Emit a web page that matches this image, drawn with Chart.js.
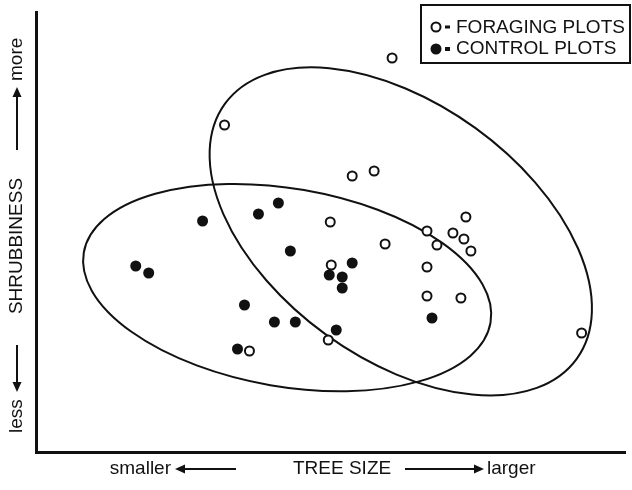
<!DOCTYPE html>
<html><head><meta charset="utf-8">
<script src="https://cdn.jsdelivr.net/npm/chart.js@4"></script>
<style>html,body{margin:0;padding:0;background:#fff}</style>
</head><body>
<canvas id="c" width="632" height="490"></canvas>
<script>
// ---- data (arbitrary units; 1 unit = 10 px on both axes) ----
const seriesNames=['FORAGING PLOTS','CONTROL PLOTS'];
const foragingX=[35.7,18.9,31.7,33.9,29.5,35.0,39.2,43.1,40.2,41.8,42.9,43.6,39.2,39.2,42.6,29.6,29.3,21.4,54.7];
const foragingY=[39.4,32.7,27.6,28.1,23.0,20.8,22.1,23.5,20.7,21.9,21.3,20.1,18.5,15.6,15.4,18.7,11.2,10.1,11.9];
const controlX=[10.0,11.3,16.7,22.3,24.3,25.5,20.9,23.9,26.0,31.7,29.4,30.7,30.7,30.1,20.2,39.7];
const controlY=[18.6,17.9,23.1,23.8,24.9,20.1,14.7,13.0,13.0,18.9,17.7,17.5,16.4,12.2,10.3,13.4];
// ellipses: [centerX, centerY, semiMajor, semiMinor, angleDeg] in data units
const foragingEllipse=[36.57,22.06,21.78,12.75,-35.92];
const controlEllipse=[25.18,16.44,20.69,9.90,-9.79];
const xAxisLabels=['smaller','TREE SIZE','larger'];
const yAxisLabels=['less','SHRUBBINESS','more'];

const FONT='"Liberation Sans", Arial, sans-serif';
function arrow(ctx,x1,y1,x2,y2){ // head at x2,y2
  const ang=Math.atan2(y2-y1,x2-x1),L=10,W=4.5;
  ctx.beginPath();ctx.moveTo(x1,y1);ctx.lineTo(x2-L*Math.cos(ang),y2-L*Math.sin(ang));ctx.lineWidth=2;ctx.stroke();
  ctx.beginPath();ctx.moveTo(x2,y2);
  ctx.lineTo(x2-L*Math.cos(ang)-W*Math.sin(ang),y2-L*Math.sin(ang)+W*Math.cos(ang));
  ctx.lineTo(x2-L*Math.cos(ang)+W*Math.sin(ang),y2-L*Math.sin(ang)-W*Math.cos(ang));ctx.closePath();ctx.fill();
}
const ellipsePlugin={id:'ell',beforeDatasetsDraw(chart){
  const {ctx,scales:{x,y}}=chart;
  const px=x.getPixelForValue(1)-x.getPixelForValue(0);
  const py=y.getPixelForValue(0)-y.getPixelForValue(1);
  [foragingEllipse,controlEllipse].forEach(e=>{ctx.save();ctx.beginPath();
    ctx.ellipse(x.getPixelForValue(e[0]),y.getPixelForValue(e[1]),e[2]*px,e[3]*py,-e[4]*Math.PI/180,0,2*Math.PI);
    ctx.lineWidth=2;ctx.strokeStyle='#111';ctx.stroke();ctx.restore();});
}};
const decoPlugin={id:'deco',afterDraw(chart){
  const ctx=chart.ctx;ctx.save();ctx.fillStyle='#111';ctx.strokeStyle='#111';
  // legend box
  ctx.lineWidth=2;ctx.strokeRect(421,5,209,58);
  ctx.beginPath();ctx.arc(436,27,4.5,0,2*Math.PI);ctx.lineWidth=2;ctx.stroke();
  ctx.fillRect(445,25.5,5,3);
  ctx.beginPath();ctx.arc(436,49,5.5,0,2*Math.PI);ctx.fill();
  ctx.fillRect(445,47,5,4);
  ctx.font='19px '+FONT;ctx.textBaseline='middle';ctx.textAlign='left';
  ctx.fillText(seriesNames[0],456,28);ctx.fillText(seriesNames[1],456,49);
  // x label
  const ty=469;
  ctx.textAlign='right';ctx.fillText(xAxisLabels[0],171,ty);
  arrow(ctx,236,ty,175,ty);
  ctx.textAlign='left';ctx.fillText(xAxisLabels[1],293,ty);
  arrow(ctx,405,ty,484,ty);
  ctx.fillText(xAxisLabels[2],487,ty);
  // y label (rotated)
  ctx.translate(17,0);ctx.rotate(-Math.PI/2);
  ctx.textAlign='left';ctx.fillText(yAxisLabels[0],-433,0);
  arrow(ctx,-345,0,-392,0);
  ctx.textAlign='center';ctx.fillText(yAxisLabels[1],-246,0);
  arrow(ctx,-150,0,-87,0);
  ctx.textAlign='left';ctx.fillText(yAxisLabels[2],-81,0);
  ctx.restore();
}};
const toPts=(xs,ys)=>xs.map((v,i)=>({x:v,y:ys[i]}));
new Chart(document.getElementById('c'),{
  type:'scatter',
  data:{datasets:[
    {label:seriesNames[0],data:toPts(foragingX,foragingY),pointRadius:4.5,pointBorderWidth:2,pointBackgroundColor:'#fff',pointBorderColor:'#111'},
    {label:seriesNames[1],data:toPts(controlX,controlY),pointRadius:5.5,pointBorderWidth:0,pointBackgroundColor:'#111',pointBorderColor:'#111'}
  ]},
  options:{responsive:false,animation:false,
    layout:{padding:{left:36,top:12,right:5,bottom:38}},
    plugins:{legend:{display:false},tooltip:{enabled:false}},
    scales:{
      x:{type:'linear',min:0,max:59.1,ticks:{display:false},grid:{display:false,drawTicks:false},border:{display:true,color:'#111',width:3}},
      y:{type:'linear',min:0,max:44,ticks:{display:false},grid:{display:false,drawTicks:false},border:{display:true,color:'#111',width:3}}
    }},
  plugins:[ellipsePlugin,decoPlugin]
});
</script>
</body></html>
